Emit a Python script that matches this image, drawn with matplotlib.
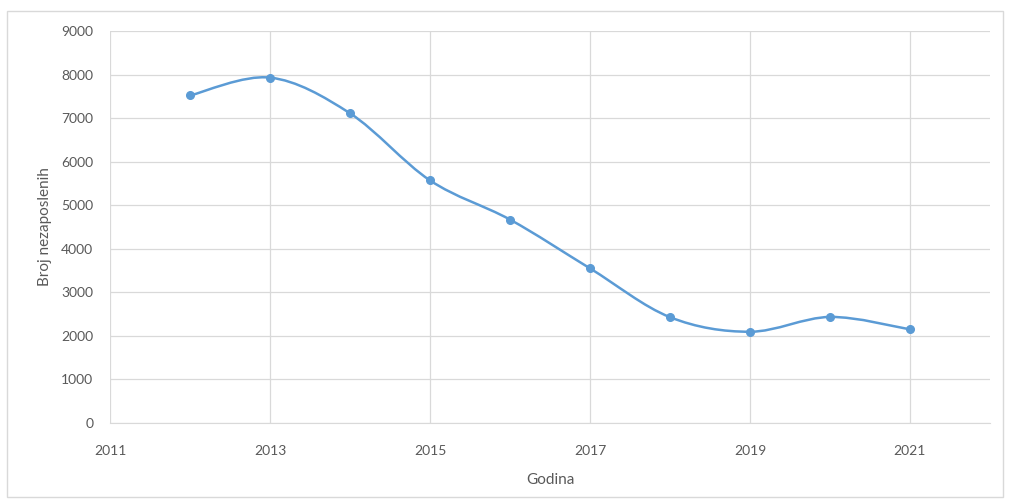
import matplotlib
matplotlib.use("Agg")
import matplotlib.pyplot as plt
import numpy as np
from matplotlib.path import Path
from matplotlib.patches import PathPatch, Rectangle

plt.rcParams['font.family'] = ['Lato', 'DejaVu Sans']

godine = [2012, 2013, 2014, 2015, 2016, 2017, 2018, 2019, 2020, 2021]
nezaposleni = [7520, 7930, 7110, 5570, 4670, 3550, 2430, 2095, 2435, 2150]
x_ticks = [2011, 2013, 2015, 2017, 2019, 2021]
y_ticks = [0, 1000, 2000, 3000, 4000, 5000, 6000, 7000, 8000, 9000]

line_color = '#5B9BD5'
grid_color = '#D9D9D9'
text_color = '#595959'

fig = plt.figure(figsize=(10.14, 4.99), dpi=100)
ax = fig.add_axes([0.1085, 0.1523, 0.8678, 0.7856])

# excel-style smoothed line: cubic bezier between points
x = np.array(godine, dtype=float)
y = np.array(nezaposleni, dtype=float)
verts = [(x[0], y[0])]
codes = [Path.MOVETO]
n = len(x)
for i in range(n - 1):
    p0 = (x[max(i - 1, 0)], y[max(i - 1, 0)])
    p1 = (x[i], y[i])
    p2 = (x[i + 1], y[i + 1])
    p3 = (x[min(i + 2, n - 1)], y[min(i + 2, n - 1)])
    c1 = (p1[0] + (p2[0] - p0[0]) / 6, p1[1] + (p2[1] - p0[1]) / 6)
    c2 = (p2[0] - (p3[0] - p1[0]) / 6, p2[1] - (p3[1] - p1[1]) / 6)
    verts += [c1, c2, p2]
    codes += [Path.CURVE4] * 3
ax.add_patch(PathPatch(Path(verts, codes), facecolor='none', edgecolor=line_color, lw=1.8, zorder=3))
ax.plot(godine, nezaposleni, 'o', color=line_color, markersize=5.5, zorder=4)

ax.set_xlim(2011, 2022)
ax.set_ylim(0, 9000)
ax.set_xticks(x_ticks)
ax.set_yticks(y_ticks)
ax.grid(True, color=grid_color, lw=0.9)
ax.set_axisbelow(True)
for s in ['top', 'right', 'left']:
    ax.spines[s].set_visible(False)
ax.spines['bottom'].set_color(grid_color)
ax.tick_params(length=0, colors=text_color, labelsize=10)
ax.tick_params(axis='x', pad=15.5)
ax.tick_params(axis='y', pad=12)
ax.set_xlabel('Godina', color=text_color, fontsize=11, labelpad=11.5)
ax.set_ylabel('Broj nezaposlenih', color=text_color, fontsize=11, labelpad=7)

fig.patches.append(Rectangle((7 / 1014, 2 / 499), 996 / 1014, 486 / 499, transform=fig.transFigure,
                             fill=False, edgecolor=grid_color, lw=1))

fig.savefig('out.png', dpi=100)
